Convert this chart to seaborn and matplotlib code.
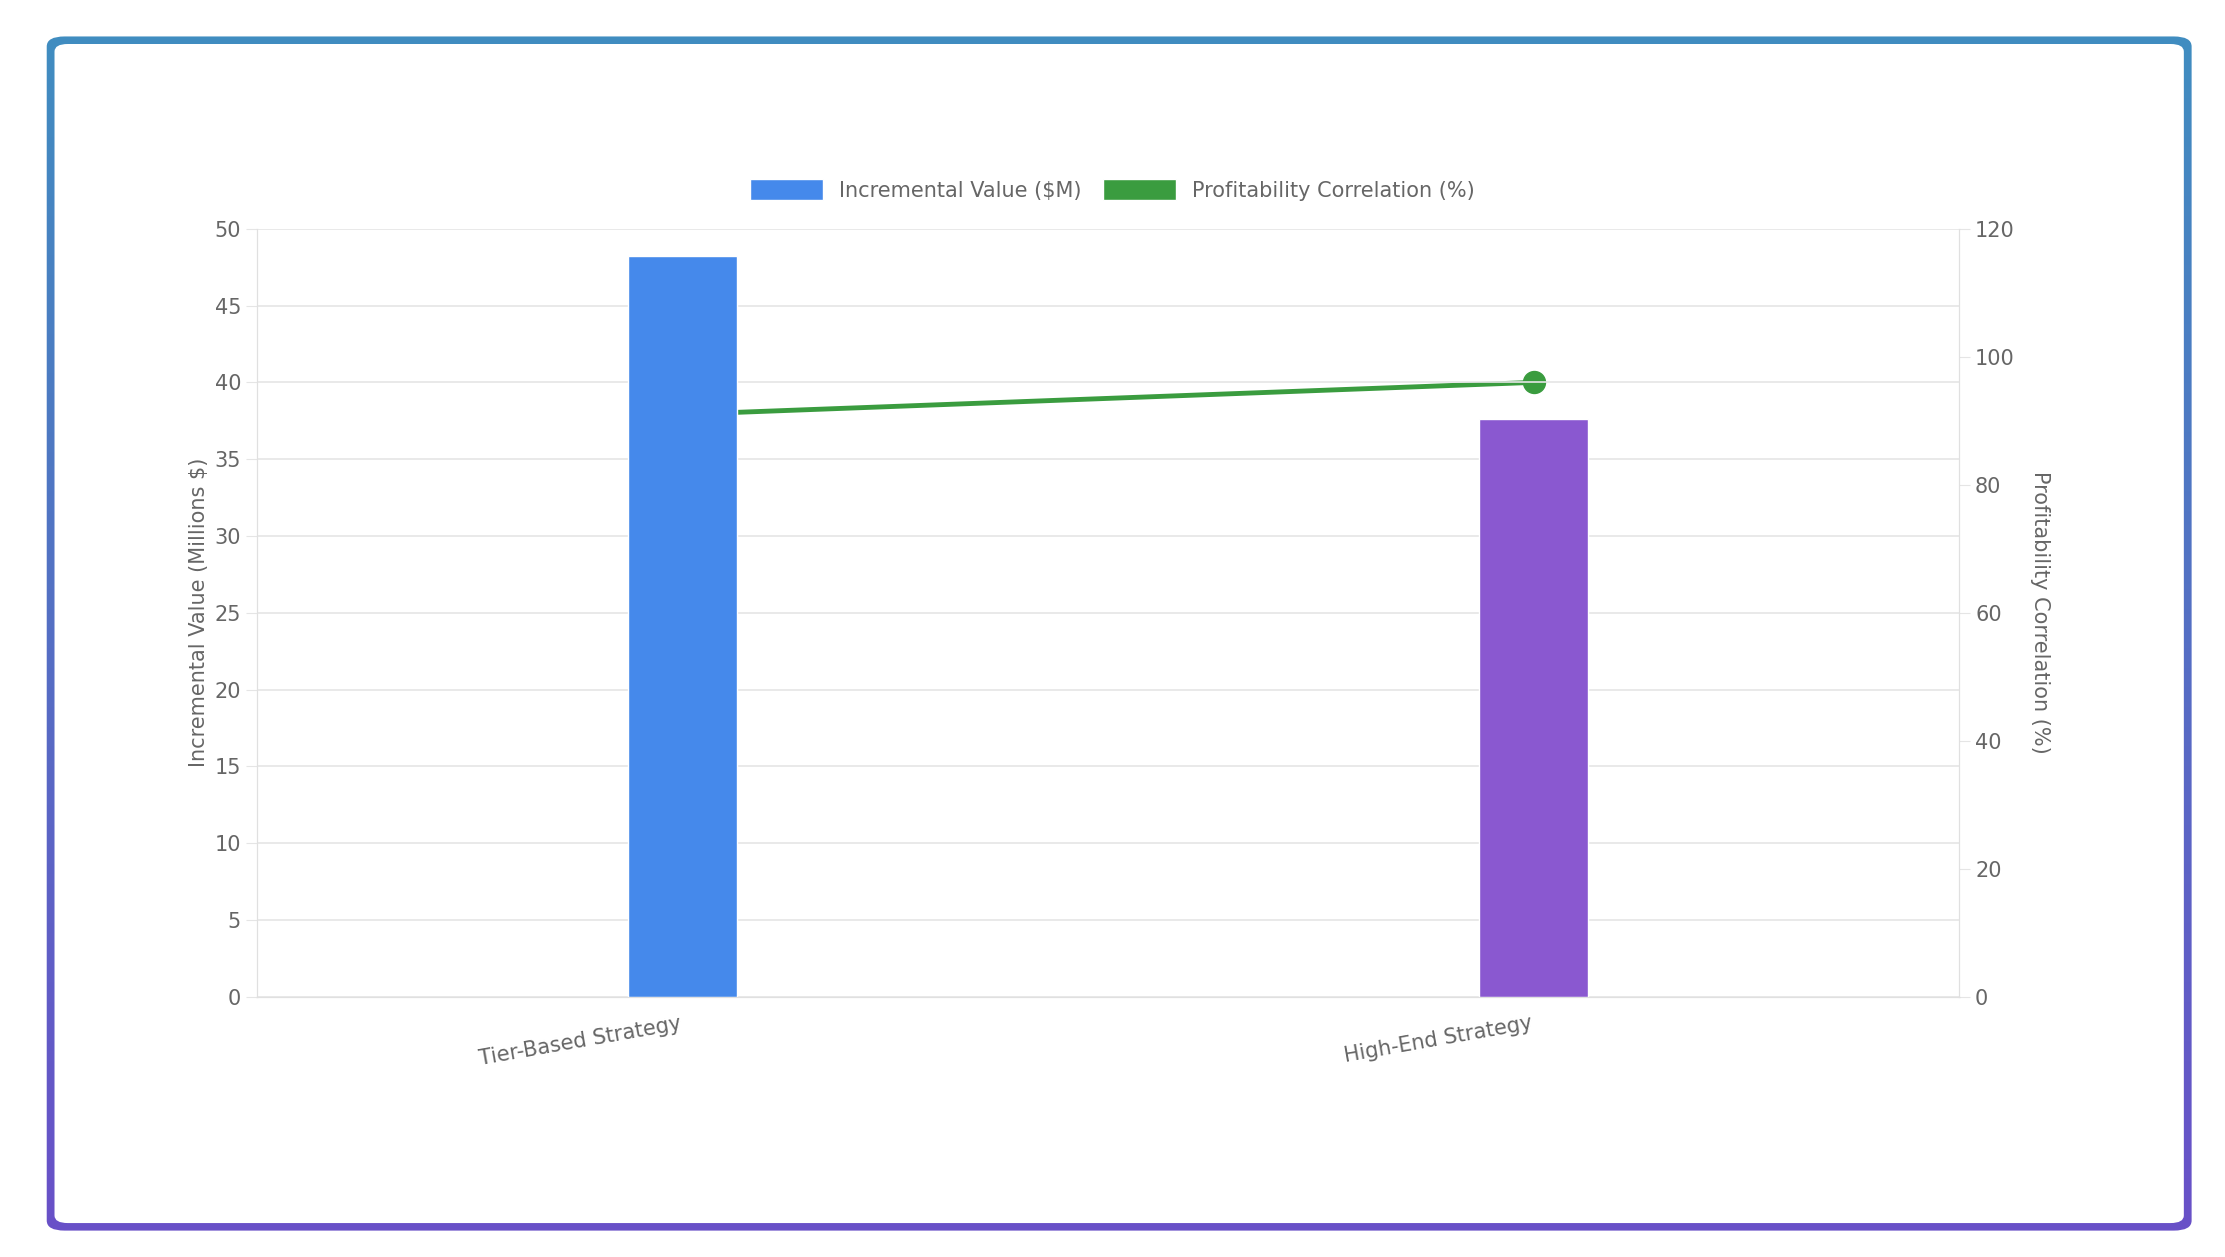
import matplotlib
matplotlib.use("Agg")
import matplotlib.pyplot as plt
import seaborn as sns
import numpy as np
import pandas as pd
from matplotlib.patches import FancyBboxPatch, Patch
from matplotlib.lines import Line2D

strategies = ["Tier-Based Strategy", "High-End Strategy"]
incremental_value = [48.2, 37.6]
profit_corr = [91, 96]
bar_colors = ["#4589eb", "#8a58d0"]
line_color = "#3a9c3f"

sns.set_style("white")
plt.rcParams["font.family"] = ["DejaVu Sans"]

fig = plt.figure(figsize=(22.25, 12.57), dpi=100)

# gradient frame
bg = fig.add_axes([0, 0, 1, 1])
bg.set_xlim(0, 1); bg.set_ylim(0, 1); bg.axis("off")
grad = np.linspace(0, 1, 256).reshape(-1, 1)
c1 = np.array([0x3f, 0x8f, 0xc0]) / 255
c2 = np.array([0x6a, 0x4f, 0xc8]) / 255
img = c1 + (c2 - c1) * grad[..., None]
im = bg.imshow(img, extent=[0, 1, 0, 1], aspect="auto", origin="upper")
outer = FancyBboxPatch((0.021, 0.021), 0.964, 0.95, boxstyle="round,pad=0,rounding_size=0.008",
                       transform=bg.transAxes, facecolor="none", edgecolor="none")
bg.add_patch(outer)
im.set_clip_path(outer)
inner = FancyBboxPatch((0.0245, 0.027), 0.957, 0.938, boxstyle="round,pad=0,rounding_size=0.006",
                       transform=bg.transAxes, facecolor="white", edgecolor="none")
bg.add_patch(inner)

ax = fig.add_axes([0.1155, 0.207, 0.765, 0.611])
ax2 = ax.twinx()
ax.set_zorder(ax2.get_zorder() + 1)
ax.patch.set_visible(False)

df = pd.DataFrame({"strategy": strategies, "value": incremental_value})
sns.barplot(data=df, x="strategy", y="value", hue="strategy", palette=bar_colors,
            width=0.128, ax=ax, legend=False, saturation=1)
ax2.plot(range(len(strategies)), profit_corr, color=line_color, lw=3.5)
ax2.scatter([1], [profit_corr[1]], color=line_color, s=250, zorder=3)

ax.set_xlim(-0.5, 1.5)
ax.set_ylim(0, 50)
ax.set_yticks(np.arange(0, 51, 5))
ax2.set_ylim(0, 120)
ax2.set_yticks(np.arange(0, 121, 20))
ax.grid(axis="y", color="#e5e5e5", lw=1.2)
ax.grid(axis="x", visible=False)
ax.set_xlabel("")
ax.set_ylabel("Incremental Value (Millions $)", color="#666666", fontsize=15)
ax2.set_ylabel("Profitability Correlation (%)", color="#666666", fontsize=15, rotation=270, labelpad=25)
ax.tick_params(axis="y", colors="#666666", labelsize=15, length=8, color="#e5e5e5")
ax2.tick_params(axis="y", colors="#666666", labelsize=15, length=8, color="#e5e5e5")
ax.tick_params(axis="x", colors="#666666", labelsize=15, length=0, pad=12)
for lab in ax.get_xticklabels():
    lab.set_rotation(10)
    lab.set_ha("right")
for a in (ax, ax2):
    for s in a.spines.values():
        s.set_color("#e0e0e0")
    a.spines["top"].set_visible(False)

handles = [Patch(facecolor=bar_colors[0], label="Incremental Value ($M)"),
           Patch(facecolor=line_color, label="Profitability Correlation (%)")]
fig.legend(handles=handles, loc="center", bbox_to_anchor=(0.5, 0.849), ncol=2, frameon=False,
           fontsize=15, handlelength=3.5, handleheight=1.2, columnspacing=1,
           labelcolor="#666666")

fig.savefig("out.png", dpi=100)
